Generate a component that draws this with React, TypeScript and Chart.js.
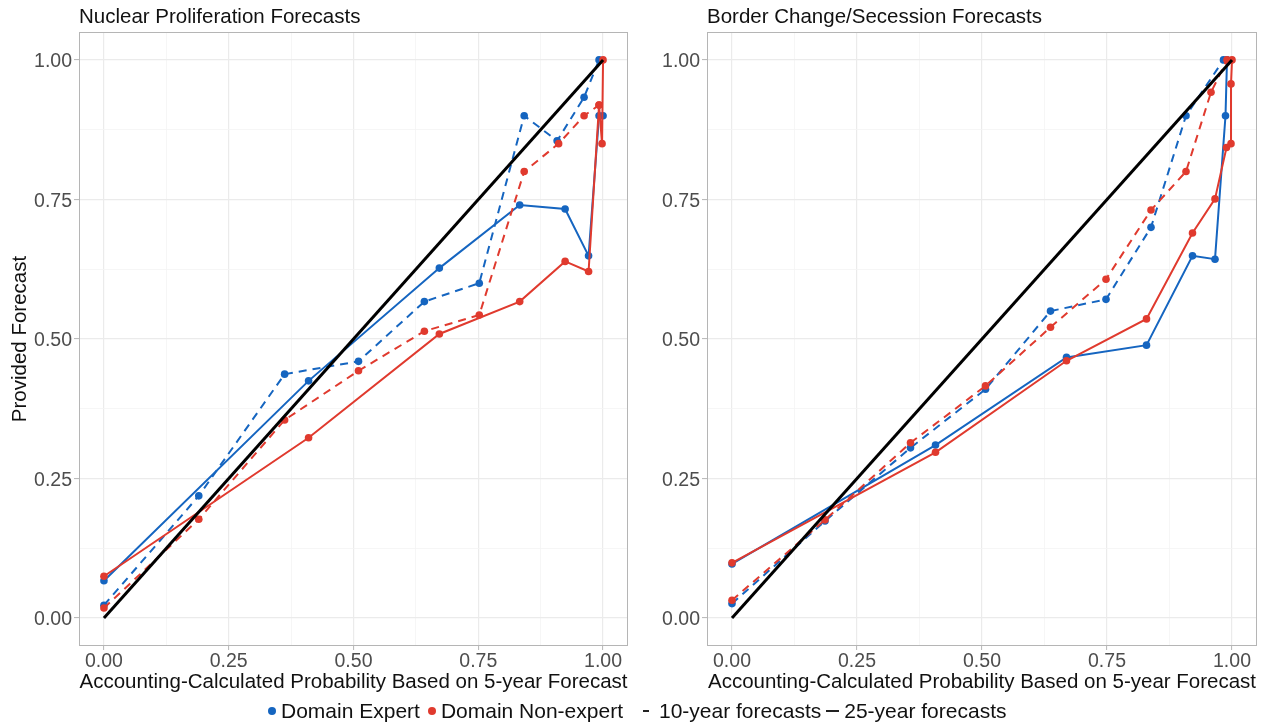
import React, { useEffect, useRef } from "react";
import { Chart, registerables } from "chart.js";

Chart.register(...registerables);

// ---------------- data ----------------
const gridValues = [0, 0.125, 0.25, 0.375, 0.5, 0.625, 0.75, 0.875, 1];
const majorTicks = [0, 0.25, 0.5, 0.75, 1];
const diagonalX = [0, 1];
const diagonalY = [0, 1];

// Nuclear Proliferation Forecasts
const nucExpert10X = [0, 0.19, 0.362, 0.51, 0.642, 0.752, 0.842, 0.908, 0.962, 0.992];
const nucExpert10Y = [0.023, 0.219, 0.437, 0.46, 0.567, 0.6, 0.9, 0.855, 0.933, 1.0];
const nucNonExpert10X = [0, 0.19, 0.362, 0.51, 0.642, 0.752, 0.842, 0.911, 0.962, 0.992];
const nucNonExpert10Y = [0.018, 0.177, 0.355, 0.443, 0.514, 0.543, 0.8, 0.85, 0.9, 0.919];
const nucExpert25X = [0, 0.41, 0.672, 0.833, 0.924, 0.971, 0.992, 1.0];
const nucExpert25Y = [0.067, 0.425, 0.627, 0.74, 0.733, 0.649, 0.9, 0.9];
const nucNonExpert25X = [0, 0.41, 0.672, 0.833, 0.924, 0.971, 0.992, 0.998, 1.0];
const nucNonExpert25Y = [0.075, 0.323, 0.509, 0.567, 0.639, 0.621, 0.919, 0.85, 1.0];

// Border Change/Secession Forecasts
const bordExpert10X = [0, 0.186, 0.357, 0.507, 0.637, 0.748, 0.838, 0.908, 0.983];
const bordExpert10Y = [0.026, 0.174, 0.305, 0.41, 0.55, 0.571, 0.7, 0.9, 1.0];
const bordNonExpert10X = [0, 0.186, 0.357, 0.507, 0.637, 0.748, 0.838, 0.908, 0.958, 0.99];
const bordNonExpert10Y = [0.032, 0.176, 0.314, 0.416, 0.521, 0.607, 0.731, 0.8, 0.942, 1.0];
const bordExpert25X = [0, 0.407, 0.669, 0.829, 0.921, 0.966, 0.987, 0.99];
const bordExpert25Y = [0.097, 0.31, 0.467, 0.489, 0.649, 0.643, 0.9, 1.0];
const bordNonExpert25X = [0, 0.407, 0.669, 0.829, 0.921, 0.966, 0.989, 0.998, 0.998, 1.0];
const bordNonExpert25Y = [0.099, 0.297, 0.461, 0.536, 0.69, 0.751, 0.843, 0.85, 0.957, 1.0];

const xTitle = "Accounting-Calculated Probability Based on 5-year Forecast";
const yTitle = "Provided Forecast";
const legendGroups = ["Domain Expert", "Domain Non-expert"];
const legendHorizons = ["10-year forecasts", "25-year forecasts"];

// ---------------- styles ----------------
const BLUE = "#1565c0";
const RED = "#e03a2e";
const FONT = "'Liberation Sans', Arial, Helvetica, sans-serif";
const TICK_COLOR = "#4d4d4d";

type Series = { x: number[]; y: number[]; color: string; dashed: boolean };

const isMajor = (v: number) => majorTicks.some((m) => Math.abs(m - v) < 1e-9);

const framePlugin = {
  id: "frame",
  afterDatasetsDraw(chart: any) {
    const { ctx, chartArea: a } = chart;
    ctx.save();
    ctx.strokeStyle = "#b5b5b5";
    ctx.lineWidth = 1;
    ctx.strokeRect(Math.round(a.left) + 0.5, Math.round(a.top) + 0.5, Math.round(a.width) - 1, Math.round(a.height) - 1);
    ctx.restore();
  },
};

function makeScale(
  axisTitle: string | null,
  fit: (s: any) => void,
  tickPad: number,
  tickLen: number,
  labelOffset: number
) {
  return {
    type: "linear",
    min: -0.05,
    max: 1.05,
    afterBuildTicks: (s: any) => {
      s.ticks = gridValues.map((v) => ({ value: v }));
    },
    afterFit: fit,
    ticks: {
      autoSkip: false,
      maxRotation: 0,
      color: TICK_COLOR,
      padding: tickPad,
      labelOffset,
      font: { family: FONT, size: 19.5 },
      callback: (v: any) => (isMajor(Number(v)) ? Number(v).toFixed(2) : ""),
    },
    grid: {
      color: (c: any) => (c.tick && isMajor(c.tick.value) ? "#ebebeb" : "#f4f4f4"),
      lineWidth: (c: any) => (c.tick && isMajor(c.tick.value) ? 1.2 : 0.8),
      tickLength: tickLen,
      tickColor: (c: any) => (c.tick && isMajor(c.tick.value) ? "#b5b5b5" : "rgba(0,0,0,0)"),
      tickWidth: 1,
    },
    border: { display: false },
    title: axisTitle
      ? {
          display: true,
          text: axisTitle,
          color: "#111",
          font: { family: FONT, size: 20.5 },
          padding: { top: 8, bottom: 5 },
        }
      : { display: false },
  };
}

function Panel(props: {
  title: string;
  series: Series[];
  showYTitle: boolean;
  left: number;
  width: number;
  yAxisWidth: number;
  padRight: number;
}) {
  const ref = useRef<HTMLCanvasElement>(null);
  useEffect(() => {
    const datasets: any[] = [
      {
        data: diagonalX.map((v, i) => ({ x: v, y: diagonalY[i] })),
        borderColor: "#000",
        borderWidth: 3,
        pointRadius: 0,
      },
    ];
    props.series.forEach((s) => {
      datasets.push({
        data: s.x.map((v, i) => ({ x: v, y: s.y[i] })),
        borderColor: s.color,
        backgroundColor: s.color,
        borderWidth: 2,
        borderDash: s.dashed ? [8, 6] : [],
        pointRadius: 3.8,
        pointBorderWidth: 0,
        pointBackgroundColor: s.color,
        tension: 0,
      });
    });
    const chart = new Chart(ref.current as HTMLCanvasElement, {
      type: "line",
      data: { datasets },
      plugins: [framePlugin],
      options: {
        responsive: false,
        animation: false,
        layout: { padding: { left: 0, right: props.padRight, top: 0, bottom: 0 } },
        plugins: {
          legend: { display: false },
          tooltip: { enabled: false },
          title: {
            display: true,
            text: props.title,
            align: "start",
            fullSize: false,
            color: "#111",
            font: { family: FONT, size: 20.5, weight: "normal" },
            padding: { top: 5.5, bottom: 1.9 },
          },
        },
        scales: {
          x: makeScale(
            xTitle,
            (s: any) => {
              s.height = 54;
            },
            0,
            4,
            0
          ),
          y: makeScale(
            props.showYTitle ? yTitle : null,
            (s: any) => {
              s.width = props.yAxisWidth;
            },
            2,
            5,
            2
          ),
        },
      } as any,
    });
    return () => chart.destroy();
  }, []);
  return (
    <canvas
      ref={ref}
      width={props.width}
      height={700}
      style={{ position: "absolute", left: props.left, top: 0, width: props.width, height: 700 }}
    />
  );
}

const Dot = ({ color, mr }: { color: string; mr: number }) => (
  <span
    style={{
      display: "inline-block",
      width: 8,
      height: 8,
      borderRadius: "50%",
      background: color,
      marginRight: mr,
    }}
  />
);

const Dash = ({ w, ml, mr }: { w: number; ml: number; mr: number }) => (
  <span
    style={{ display: "inline-block", width: w, height: 2, background: "#222", marginLeft: ml, marginRight: mr }}
  />
);

export default function App() {
  const nuclear: Series[] = [
    { x: nucNonExpert25X, y: nucNonExpert25Y, color: RED, dashed: false },
    { x: nucNonExpert10X, y: nucNonExpert10Y, color: RED, dashed: true },
    { x: nucExpert25X, y: nucExpert25Y, color: BLUE, dashed: false },
    { x: nucExpert10X, y: nucExpert10Y, color: BLUE, dashed: true },
  ];
  const border: Series[] = [
    { x: bordNonExpert25X, y: bordNonExpert25Y, color: RED, dashed: false },
    { x: bordNonExpert10X, y: bordNonExpert10Y, color: RED, dashed: true },
    { x: bordExpert25X, y: bordExpert25Y, color: BLUE, dashed: false },
    { x: bordExpert10X, y: bordExpert10Y, color: BLUE, dashed: true },
  ];
  return (
    <div style={{ position: "fixed", left: 0, top: 0, width: 1263, height: 723, background: "#fff", overflow: "hidden" }}>
      <Panel title="Nuclear Proliferation Forecasts" series={nuclear} showYTitle={true} left={0} width={632} yAxisWidth={79} padRight={3} />
      <Panel title="Border Change/Secession Forecasts" series={border} showYTitle={false} left={632} width={631} yAxisWidth={75} padRight={6} />
      <div
        style={{
          position: "absolute",
          left: 268,
          top: 699,
          display: "flex",
          alignItems: "center",
          fontFamily: FONT,
          fontSize: 21,
          color: "#111",
          lineHeight: "24px",
          whiteSpace: "nowrap",
        }}
      >
        <Dot color={BLUE} mr={5} />
        <span style={{ marginRight: 8 }}>{legendGroups[0]}</span>
        <Dot color={RED} mr={5} />
        <span>{legendGroups[1]}</span>
        <Dash w={6} ml={20} mr={10} />
        <span>{legendHorizons[0]}</span>
        <Dash w={13} ml={5} mr={5} />
        <span>{legendHorizons[1]}</span>
      </div>
    </div>
  );
}
